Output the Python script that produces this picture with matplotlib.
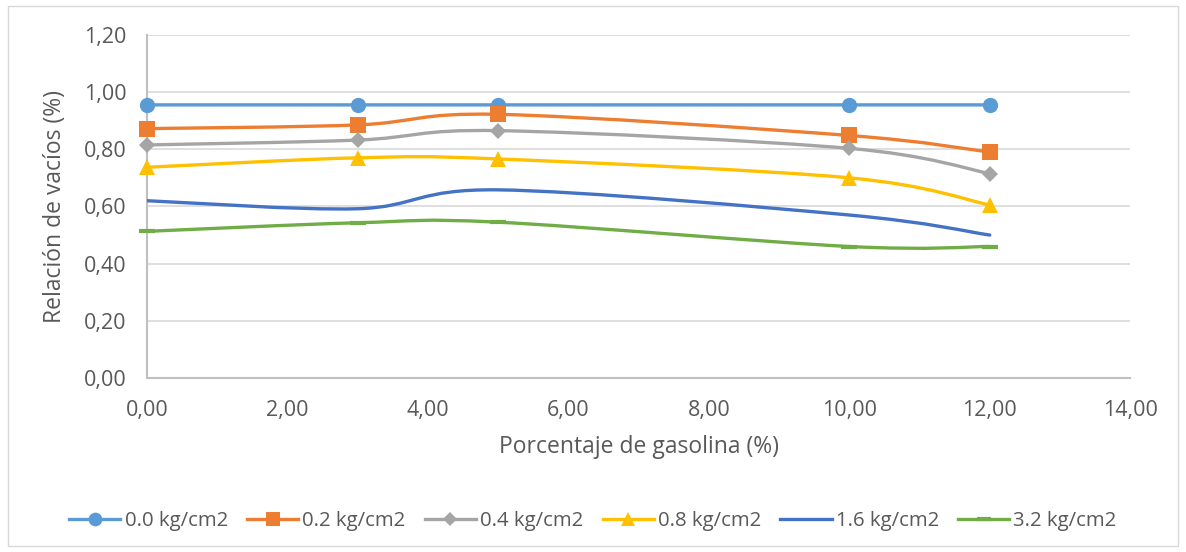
import numpy as np
import matplotlib.pyplot as plt
from matplotlib.path import Path
from matplotlib.patches import PathPatch, Rectangle
from matplotlib.lines import Line2D
from matplotlib.ticker import FuncFormatter, MultipleLocator

# Gasoline percentage (x) and void ratio for each load
gasolina = [0, 3, 5, 10, 12]
cargas = ["0.0 kg/cm2", "0.2 kg/cm2", "0.4 kg/cm2", "0.8 kg/cm2", "1.6 kg/cm2", "3.2 kg/cm2"]
e_00 = [0.955, 0.955, 0.955, 0.955, 0.955]
e_02 = [0.872, 0.885, 0.922, 0.848, 0.79]
e_04 = [0.815, 0.832, 0.865, 0.803, 0.715]
e_08 = [0.737, 0.77, 0.766, 0.70, 0.605]
e_16 = [0.62, 0.592, 0.658, 0.57, 0.50]
e_32 = [0.513, 0.543, 0.545, 0.46, 0.46]
series = [e_00, e_02, e_04, e_08, e_16, e_32]

colores = ["#5B9BD5", "#ED7D31", "#A5A5A5", "#FFC000", "#4472C4", "#70AD47"]
marcadores = ["o", "s", "D", "^", None, "_"]
tam_marcador = [11, 11, 8, 11, 0, 11]


def smooth_path(x, y, t=1.0 / 6):
    # cubic bezier through all points, same idea as Excel's "smoothed line"
    p = np.column_stack([x, y]).astype(float)
    n = len(p)
    verts = [p[0]]
    codes = [Path.MOVETO]
    for i in range(n - 1):
        p0 = p[i - 1] if i > 0 else p[i]
        p3 = p[i + 2] if i + 2 < n else p[i + 1]
        c1 = p[i] + (p[i + 1] - p0) * t
        c2 = p[i + 1] - (p3 - p[i]) * t
        verts += [c1, c2, p[i + 1]]
        codes += [Path.CURVE4] * 3
    return Path(verts, codes)


fig = plt.figure(figsize=(11.86, 5.52), dpi=100)
plt.rcParams['font.family'] = ['Open Sans', 'DejaVu Sans']
ax = fig.add_axes([0.124, 0.315, 0.829, 0.622])

fig.patches.append(Rectangle((0.007, 0.01), 0.986, 0.98, transform=fig.transFigure,
                             fill=False, edgecolor="#D9D9D9", lw=1))

for vals, col, mk, ms, lab in zip(series, colores, marcadores, tam_marcador, cargas):
    ax.add_patch(PathPatch(smooth_path(gasolina, vals), fill=False, edgecolor=col,
                           lw=2.4, capstyle="round", zorder=3))
    if mk is not None:
        ax.plot(gasolina, vals, linestyle="none", marker=mk, markersize=ms, color=col,
                markeredgewidth=3 if mk == "_" else 0, zorder=4, clip_on=False)

ax.set_xlim(0, 14)
ax.set_ylim(0, 1.2)
ax.xaxis.set_major_locator(MultipleLocator(2))
ax.yaxis.set_major_locator(MultipleLocator(0.2))
coma = FuncFormatter(lambda v, pos: f"{v:.2f}".replace(".", ","))
ax.xaxis.set_major_formatter(coma)
ax.yaxis.set_major_formatter(coma)

ax.grid(axis="y", color="#D9D9D9", lw=1.2)
ax.set_axisbelow(True)
for s in ["top", "right"]:
    ax.spines[s].set_visible(False)
for s in ["left", "bottom"]:
    ax.spines[s].set_color("#BFBFBF")
    ax.spines[s].set_linewidth(1.5)
ax.tick_params(length=0, labelsize=15.5, labelcolor="#595959")
ax.tick_params(axis="y", pad=15)
ax.tick_params(axis="x", pad=16)

ax.set_xlabel("Porcentaje de gasolina (%)", fontsize=16.5, color="#595959", labelpad=10)
ax.set_ylabel("Relación de vacíos (%)", fontsize=16.5, color="#595959", labelpad=12)

handles = []
for col, mk, ms in zip(colores, marcadores, tam_marcador):
    handles.append(Line2D([], [], color=col, lw=2.4, marker=mk, markersize=ms * 0.9,
                          markeredgewidth=3 if mk == "_" else 0))
fig.legend(handles, cargas, loc="lower center", bbox_to_anchor=(0.5, 0.005), ncol=6,
           frameon=False, fontsize=14.7, labelcolor="#595959", handlelength=2.5,
           handletextpad=0.2, columnspacing=0.95)

fig.savefig("out.png", dpi=100)
